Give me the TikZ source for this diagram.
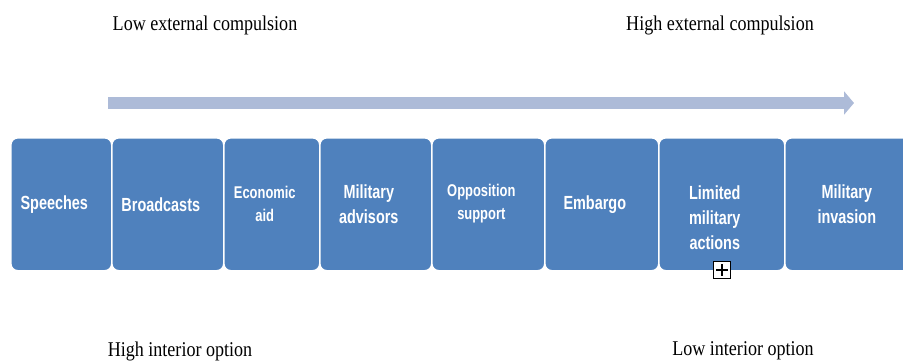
\documentclass[tikz,border=0pt]{standalone}
\usepackage{fontspec}
\setmainfont{Liberation Serif}
\newfontfamily\boxfont{Liberation Sans}
\usetikzlibrary{arrows.meta}

\definecolor{boxBlue}{RGB}{79,129,189}
\definecolor{arrowBlue}{RGB}{173,187,216}

\begin{document}
\begin{tikzpicture}[%%
  x=1pt,y=-1pt,%%
  boxStyle/.style={rectangle,rounded corners=7pt,fill=boxBlue,draw=white,%%
    line width=1.6pt,anchor=north west,inner sep=0pt},%%
  boxText/.style={text=white,align=center,xscale=0.76,inner sep=0pt,%%
    font=\boxfont\bfseries\fontsize{#1}{25}\selectfont},%%
  labelStyle/.style={xscale=0.86,inner sep=0pt,font=\fontsize{21}{24}\selectfont},%%
  arrowStyle/.style={arrowBlue,line width=12pt,-{Triangle[length=10pt,width=23pt]}}%%
]
%%
%%
\pgfmathsetmacro{\boxTop}{137}
\pgfmathsetmacro{\boxHeight}{133}
\pgfmathsetmacro{\textShift}{7}
%%
\useasboundingbox (0,0) rectangle (903,364);
%%
%% The scale arrow.
\coordinate (arrowStart) at (108,103);
\coordinate (arrowEnd) at (854,103);
\draw[arrowStyle] (arrowStart) -- (arrowEnd);
%%
%% Top and bottom labels.
\node[labelStyle] (lowExternal) at (205,25) {Low external compulsion};
\node[labelStyle] (highExternal) at (720,25) {High external compulsion};
\node[labelStyle] (highInterior) at (180,351) {High interior option};
\node[labelStyle] (lowInterior) at (743,351) {Low interior option};
%%
%% The row of boxes: left edge/right edge/name/text y/size/text.
\foreach \xl/\xr/\name/\ty/\sz/\txt in {%%
    10/111/speeches/205/19/{Speeches},%%
    111/223/broadcasts/205/19/{Broadcasts},%%
    223/319/economicAid/204/17/{Economic\\[-2pt]aid},%%
    319/431/advisors/204/19/{Military\\advisors},%%
    431/544/opposition/204/17/{Opposition\\[-2pt]support},%%
    544/658/embargo/205/19/{Embargo},%%
    658/784/limited/218/19/{Limited\\military\\actions},%%
    784/922/invasion/204/19/{Military\\invasion}} {
  \pgfmathsetmacro{\boxWidth}{\xr-\xl}
  \node[boxStyle,minimum width=\boxWidth pt,minimum height=\boxHeight pt]
    (\name) at (\xl,\boxTop) {};
  \node[boxText=\sz] (\name Text) at ([xshift=-\textShift pt]\name.center |- 0,\ty) {\txt};
}
%%
%% Small expand icon under the third line.
\node[draw=black,fill=white,line width=0.8pt,minimum size=17pt,inner sep=0pt]
  (expandIcon) at (722,270) {};
\draw[line width=1.3pt] ([yshift=3pt]expandIcon.south) -- ([yshift=-3pt]expandIcon.north);
\draw[line width=1.3pt] ([xshift=3pt]expandIcon.west) -- ([xshift=-3pt]expandIcon.east);
\end{tikzpicture}
\end{document}
